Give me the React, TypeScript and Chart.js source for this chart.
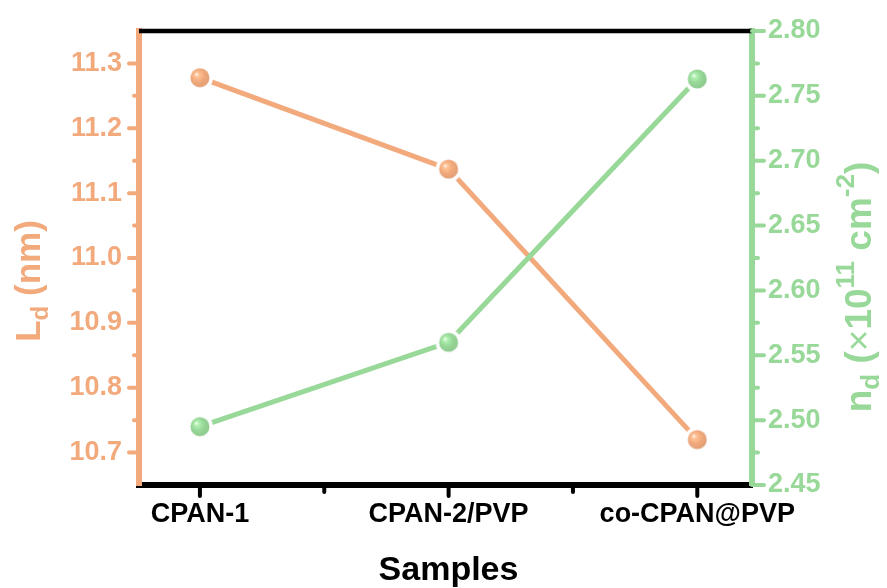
import React, { useEffect, useRef } from 'react';
import { Chart, registerables } from 'chart.js';

Chart.register(...registerables);

// ---- data ----
const categories = ['CPAN-1', 'CPAN-2/PVP', 'co-CPAN@PVP'];
const categoryPositions = [1, 2, 3];
const categoryMinorTicks = [1.5, 2.5];
const ldValues = [11.278, 11.137, 10.72];
const ndValues = [2.495, 2.56, 2.763];
const leftTicks = [10.7, 10.8, 10.9, 11.0, 11.1, 11.2, 11.3];
const leftMinorTicks = [10.75, 10.85, 10.95, 11.05, 11.15, 11.25];
const rightTicks = [2.45, 2.5, 2.55, 2.6, 2.65, 2.7, 2.75, 2.8];
const rightMinorTicks = [2.475, 2.525, 2.575, 2.625, 2.675, 2.725, 2.775];

const ORANGE = 'rgb(242,170,125)';
const GREEN = 'rgb(152,216,152)';
const ORANGE_RGB = [242, 170, 125];
const GREEN_RGB = [152, 216, 152];
const FONT = "'Liberation Sans', Arial, Helvetica, sans-serif";

function makeSphere(rgb: number[], radius: number, ring: number) {
  const size = Math.ceil((radius + ring) * 2) + 2;
  const c = document.createElement('canvas');
  c.width = size;
  c.height = size;
  const g = c.getContext('2d')!;
  const m = size / 2;
  g.fillStyle = '#fff';
  g.beginPath();
  g.arc(m, m, radius + ring, 0, Math.PI * 2);
  g.fill();
  const [r, gg, b] = rgb;
  const light = `rgb(${Math.min(255, r + 25)},${Math.min(255, gg + 25)},${Math.min(255, b + 25)})`;
  const dark = `rgb(${Math.round(r * 0.93)},${Math.round(gg * 0.93)},${Math.round(b * 0.93)})`;
  const grad = g.createRadialGradient(m - radius * 0.38, m - radius * 0.38, 0, m - radius * 0.1, m - radius * 0.1, radius * 1.15);
  grad.addColorStop(0, 'rgb(255,255,255)');
  grad.addColorStop(0.2, light);
  grad.addColorStop(0.55, `rgb(${r},${gg},${b})`);
  grad.addColorStop(1, dark);
  g.fillStyle = grad;
  g.beginPath();
  g.arc(m, m, radius, 0, Math.PI * 2);
  g.fill();
  return c;
}

type Part = { t: string; s: number; dy: number; w?: string };

function drawRotatedRich(ctx: CanvasRenderingContext2D, parts: Part[], baseX: number, cy: number, color: string) {
  ctx.save();
  ctx.translate(baseX, cy);
  ctx.rotate(-Math.PI / 2);
  ctx.fillStyle = color;
  ctx.textBaseline = 'alphabetic';
  ctx.textAlign = 'left';
  let total = 0;
  for (const p of parts) {
    ctx.font = `${p.w || 'bold'} ${p.s}px ${FONT}`;
    total += ctx.measureText(p.t).width;
  }
  let x = -total / 2;
  for (const p of parts) {
    ctx.font = `${p.w || 'bold'} ${p.s}px ${FONT}`;
    ctx.fillText(p.t, x, p.dy);
    x += ctx.measureText(p.t).width;
  }
  ctx.restore();
}

const decoPlugin = {
  id: 'deco',
  afterDraw(chart: any) {
    const { ctx, chartArea: ca, scales } = chart;
    ctx.save();
    // top frame
    ctx.strokeStyle = '#000';
    ctx.lineWidth = 4.5;
    ctx.beginPath();
    ctx.moveTo(ca.left, ca.top);
    ctx.lineTo(ca.right, ca.top);
    ctx.stroke();

    ctx.lineCap = 'round';
    ctx.lineWidth = 4;
    const y = scales.y;
    const y2 = scales.y2;
    const x = scales.x;
    // left ticks
    ctx.strokeStyle = ORANGE;
    leftTicks.forEach((v) => {
      const p = y.getPixelForValue(v);
      ctx.beginPath(); ctx.moveTo(ca.left, p); ctx.lineTo(ca.left - 10, p); ctx.stroke();
    });
    leftMinorTicks.forEach((v) => {
      const p = y.getPixelForValue(v);
      ctx.beginPath(); ctx.moveTo(ca.left, p); ctx.lineTo(ca.left - 5, p); ctx.stroke();
    });
    // right ticks
    ctx.strokeStyle = GREEN;
    rightTicks.forEach((v) => {
      const p = y2.getPixelForValue(v);
      ctx.beginPath(); ctx.moveTo(ca.right, p); ctx.lineTo(ca.right + 12, p); ctx.stroke();
    });
    rightMinorTicks.forEach((v) => {
      const p = y2.getPixelForValue(v);
      ctx.beginPath(); ctx.moveTo(ca.right, p); ctx.lineTo(ca.right + 6, p); ctx.stroke();
    });
    // bottom ticks
    ctx.strokeStyle = '#000';
    categoryPositions.forEach((v) => {
      const p = x.getPixelForValue(v);
      ctx.beginPath(); ctx.moveTo(p, ca.bottom); ctx.lineTo(p, ca.bottom + 11); ctx.stroke();
    });
    categoryMinorTicks.forEach((v) => {
      const p = x.getPixelForValue(v);
      ctx.beginPath(); ctx.moveTo(p, ca.bottom); ctx.lineTo(p, ca.bottom + 7); ctx.stroke();
    });

    // x title
    ctx.fillStyle = '#000';
    ctx.font = `bold 34px ${FONT}`;
    ctx.textAlign = 'center';
    ctx.textBaseline = 'alphabetic';
    ctx.fillText('Samples', (ca.left + ca.right) / 2 + 3, 580);
    ctx.restore();

    // left title: L_d (nm)
    drawRotatedRich(ctx, [
      { t: 'L', s: 35, dy: 0 },
      { t: 'd', s: 24, dy: 8 },
      { t: ' (nm)', s: 35, dy: 0 },
    ], 40, 281, ORANGE);

    // right title: n_d (×10^11 cm^-2)
    drawRotatedRich(ctx, [
      { t: 'n', s: 37, dy: 0 },
      { t: 'd', s: 26, dy: 8 },
      { t: ' (', s: 37, dy: 0 },
      { t: '×', s: 37, dy: 0, w: 'normal' },
      { t: '10', s: 37, dy: 0 },
      { t: '11', s: 26, dy: -17 },
      { t: ' cm', s: 37, dy: 0 },
      { t: '-2', s: 26, dy: -17 },
      { t: ')', s: 37, dy: 0 },
    ], 871, 287, GREEN);
  },
};

export default function App() {
  const ref = useRef<HTMLCanvasElement | null>(null);
  useEffect(() => {
    if (!ref.current) return;
    const sphereO = makeSphere(ORANGE_RGB, 9.5, 3.5);
    const sphereG = makeSphere(GREEN_RGB, 9.5, 3.5);
    const chart = new Chart(ref.current, {
      type: 'line',
      data: {
        datasets: [
          {
            label: 'nd',
            data: categoryPositions.map((xv, i) => ({ x: xv, y: ndValues[i] })),
            yAxisID: 'y2',
            borderColor: GREEN,
            borderWidth: 5,
            pointStyle: sphereG as any,
            pointRadius: 12,
            pointHoverRadius: 12,
            fill: false,
          },
          {
            label: 'Ld',
            data: categoryPositions.map((xv, i) => ({ x: xv, y: ldValues[i] })),
            yAxisID: 'y',
            borderColor: ORANGE,
            borderWidth: 5,
            pointStyle: sphereO as any,
            pointRadius: 12,
            pointHoverRadius: 12,
            fill: false,
          },
        ],
      },
      options: {
        animation: false,
        responsive: true,
        maintainAspectRatio: false,
        events: [],
        layout: { padding: { top: 31, left: 0, right: 0, bottom: 0 } },
        plugins: { legend: { display: false }, tooltip: { enabled: false } },
        scales: {
          x: {
            type: 'linear',
            position: 'bottom',
            min: 0.755,
            max: 3.22,
            afterBuildTicks: (s: any) => { s.ticks = categoryPositions.map((v) => ({ value: v })); },
            afterFit: (s: any) => { s.height = 103; },
            ticks: {
              color: '#000',
              font: { family: FONT, size: 27, weight: 'bold' },
              padding: 3,
              maxRotation: 0,
              autoSkip: false,
              callback: (v: any) => categories[categoryPositions.indexOf(Number(v))] ?? '',
            },
            grid: { display: true, drawOnChartArea: false, drawTicks: true, tickLength: 10, tickColor: 'rgba(0,0,0,0)' },
            border: { display: true, color: '#000', width: 6 },
          },
          y: {
            type: 'linear',
            position: 'left',
            min: 10.65,
            max: 11.35,
            afterBuildTicks: (s: any) => { s.ticks = leftTicks.map((v) => ({ value: v })); },
            afterFit: (s: any) => { s.width = 139; },
            ticks: {
              color: ORANGE,
              font: { family: FONT, size: 27, weight: 'bold' },
              padding: 9,
              callback: (v: any) => Number(v).toFixed(1),
            },
            grid: { display: true, drawOnChartArea: false, drawTicks: true, tickLength: 8, tickColor: 'rgba(0,0,0,0)' },
            border: { display: true, color: ORANGE, width: 6 },
          },
          y2: {
            type: 'linear',
            position: 'right',
            min: 2.45,
            max: 2.8,
            afterBuildTicks: (s: any) => { s.ticks = rightTicks.map((v) => ({ value: v })); },
            afterFit: (s: any) => { s.width = 135; },
            ticks: {
              color: GREEN,
              font: { family: FONT, size: 27, weight: 'bold' },
              padding: 8,
              callback: (v: any) => Number(v).toFixed(2),
            },
            grid: { display: true, drawOnChartArea: false, drawTicks: true, tickLength: 8, tickColor: 'rgba(0,0,0,0)' },
            border: { display: true, color: GREEN, width: 6 },
          },
        },
      },
      plugins: [decoPlugin],
    } as any);
    return () => chart.destroy();
  }, []);
  return (
    <div style={{ position: 'fixed', left: 0, top: 0, width: 887, height: 588, background: '#fff' }}>
      <canvas ref={ref} />
    </div>
  );
}
